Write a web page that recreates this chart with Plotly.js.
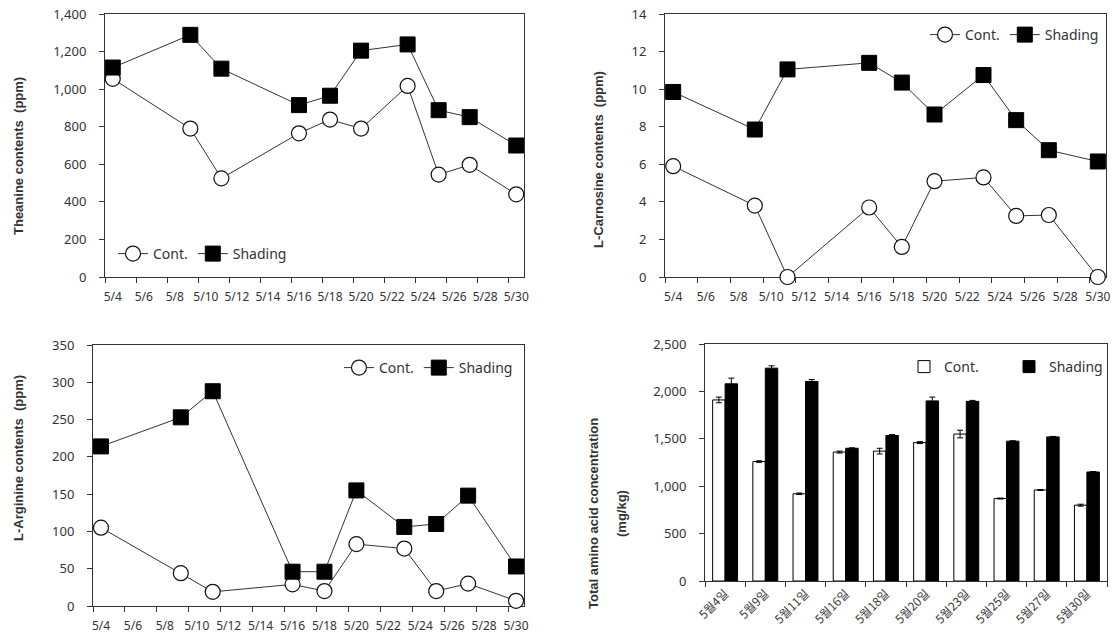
<!DOCTYPE html>
<html>
<head>
<meta charset="utf-8">
<script src="https://cdn.plot.ly/plotly-3.0.1.min.js"></script>
<style>
  html, body { margin: 0; padding: 0; background: #fff; }
  #chart { width: 1116px; height: 635px; }
</style>
</head>
<body>
<div id="chart"></div>
<script>
// ---- data ----
const days = [4, 9, 11, 16, 18, 20, 23, 25, 27, 30];
const dayTickVals = [4, 6, 8, 10, 12, 14, 16, 18, 20, 22, 24, 26, 28, 30];
const dayTickText = ['5/4', '5/6', '5/8', '5/10', '5/12', '5/14', '5/16', '5/18', '5/20', '5/22', '5/24', '5/26', '5/28', '5/30'];
const dayTickMarks = [3.5, 5.5, 7.5, 9.5, 11.5, 13.5, 15.5, 17.5, 19.5, 21.5, 23.5, 25.5, 27.5, 29.5];

const theanineCont = [1055, 790, 525, 765, 838, 790, 1017, 545, 597, 440];
const theanineShading = [1115, 1289, 1109, 915, 965, 1205, 1238, 888, 851, 700];

const carnosineCont = [5.9, 3.8, 0, 3.7, 1.6, 5.1, 5.3, 3.25, 3.3, 0];
const carnosineShading = [9.85, 7.85, 11.05, 11.4, 10.35, 8.65, 10.75, 8.35, 6.75, 6.15];

const arginineCont = [105, 44, 19, 29, 20, 83, 77, 20, 30, 7];
const arginineShading = [214, 253, 288, 46, 46, 155, 106, 110, 148, 53];

const barCategories = ['5월4일', '5월9일', '5월11일', '5월16일', '5월18일', '5월20일', '5월23일', '5월25일', '5월27일', '5월30일'];
const totalCont = [1910, 1260, 920, 1360, 1370, 1460, 1550, 870, 960, 800];
const totalContErr = [30, 8, 8, 10, 30, 10, 40, 5, 5, 10];
const totalShading = [2080, 2245, 2105, 1400, 1535, 1900, 1895, 1475, 1520, 1150];
const totalShadingErr = [60, 25, 20, 5, 10, 40, 10, 5, 5, 5];

const seriesNames = ['Cont.', 'Shading'];

// ---- helpers ----
const W = 1116, H = 635;
const px = v => v / W;
const py = v => 1 - v / H;
const INK = '#333333';
const tickFont = { family: 'Noto Sans, Open Sans, sans-serif', size: 12, color: INK };
const titleFont = { family: 'Liberation Sans, Arial, sans-serif', size: 13, color: INK, weight: 'bold' };
const legendFont = { family: 'Noto Sans, Open Sans, sans-serif', size: 14, color: INK };

function lineTraces(y1, y2, xa, ya, legendId) {
  return [
    {
      x: days, y: y1, name: seriesNames[0], type: 'scatter', mode: 'lines+markers',
      xaxis: xa, yaxis: ya, legend: legendId, cliponaxis: false,
      line: { color: INK, width: 1 },
      marker: { symbol: 'circle', size: 15, color: '#ffffff', line: { color: '#111', width: 1.2 } }
    },
    {
      x: days, y: y2, name: seriesNames[1], type: 'scatter', mode: 'lines+markers',
      xaxis: xa, yaxis: ya, legend: legendId, cliponaxis: false,
      line: { color: INK, width: 1 },
      marker: { symbol: 'square', size: 15, color: '#000000', line: { color: '#000', width: 1 } }
    }
  ];
}

// empty helper traces so that the tick-mark overlay axes get drawn
function tickAxisTrace(xa, ya) {
  return { x: [], y: [], type: 'scatter', mode: 'markers', xaxis: xa, yaxis: ya, showlegend: false, hoverinfo: 'skip' };
}

function dayAxis(l, r, anchor) {
  return {
    domain: [px(l), px(r)], anchor: anchor, range: [3.5, 30.5],
    tickmode: 'array', tickvals: dayTickVals, ticktext: dayTickText,
    ticks: '', ticklabelstandoff: 9,
    showline: true, mirror: true, linecolor: INK, linewidth: 1, layer: 'below traces',
    showgrid: false, zeroline: false, tickfont: tickFont, fixedrange: true
  };
}

function tickOverlayAxis(over, anchor) {
  return {
    overlaying: over, anchor: anchor, range: [3.5, 30.5],
    tickmode: 'array', tickvals: dayTickMarks, showticklabels: false,
    ticks: 'outside', ticklen: 5, tickcolor: INK, tickwidth: 1,
    showline: false, showgrid: false, zeroline: false, fixedrange: true
  };
}

function valAxis(t, b, anchor, range, dtick) {
  return {
    domain: [py(b), py(t)], anchor: anchor, range: range, dtick: dtick, tick0: 0,
    tickformat: ',', ticks: 'outside', ticklen: 5, tickcolor: INK, tickwidth: 1,
    ticklabelstandoff: 10, layer: 'below traces',
    showline: true, mirror: true, linecolor: INK, linewidth: 1,
    showgrid: false, zeroline: false, tickfont: Object.assign({}, tickFont, { size: 13 }), fixedrange: true
  };
}

const data = [
  ...lineTraces(theanineCont, theanineShading, 'x', 'y', 'legend'),
  ...lineTraces(carnosineCont, carnosineShading, 'x2', 'y2', 'legend2'),
  ...lineTraces(arginineCont, arginineShading, 'x3', 'y3', 'legend3'),
  tickAxisTrace('x5', 'y'),
  tickAxisTrace('x6', 'y2'),
  tickAxisTrace('x7', 'y3'),
  {
    x: barCategories, y: totalCont, name: seriesNames[0], type: 'bar',
    xaxis: 'x4', yaxis: 'y4', legend: 'legend4',
    marker: { color: '#ffffff', line: { color: '#000', width: 1 } },
    error_y: { type: 'data', array: totalContErr, visible: true, color: '#000', thickness: 1, width: 3 }
  },
  {
    x: barCategories, y: totalShading, name: seriesNames[1], type: 'bar',
    xaxis: 'x4', yaxis: 'y4', legend: 'legend4',
    marker: { color: '#000000', line: { color: '#000', width: 1 } },
    error_y: { type: 'data', array: totalShadingErr, visible: true, color: '#000', thickness: 1, width: 3 }
  }
];

const legendBase = {
  orientation: 'h', bgcolor: 'rgba(0,0,0,0)', font: legendFont,
  itemwidth: 30, tracegroupgap: 0, yanchor: 'middle', itemclick: false, itemdoubleclick: false
};

const yTitle = (text, x, y) => ({
  text: text, x: px(x), y: py(y), xref: 'paper', yref: 'paper',
  xanchor: 'center', yanchor: 'middle', textangle: -90, showarrow: false, font: titleFont
});

const layout = {
  width: W, height: H, autosize: false,
  margin: { l: 0, r: 0, t: 0, b: 0, pad: 0 },
  paper_bgcolor: '#ffffff', plot_bgcolor: '#ffffff',
  showlegend: true,
  barmode: 'group', bargap: 0.38, bargroupgap: 0,
  xaxis: dayAxis(105, 524, 'y'),
  yaxis: valAxis(14, 277, 'x', [0, 1400], 200),
  xaxis2: dayAxis(665, 1106, 'y2'),
  yaxis2: valAxis(14, 277, 'x2', [0, 14], 2),
  xaxis3: dayAxis(93, 524, 'y3'),
  yaxis3: valAxis(345, 606, 'x3', [0, 350], 50),
  xaxis5: tickOverlayAxis('x', 'y'),
  xaxis6: tickOverlayAxis('x2', 'y2'),
  xaxis7: tickOverlayAxis('x3', 'y3'),
  xaxis4: {
    domain: [px(705), px(1107)], anchor: 'y4', type: 'category',
    ticks: 'outside', tickson: 'boundaries', ticklen: 5, tickcolor: INK,
    tickangle: -45, showline: true, mirror: true, linecolor: INK, linewidth: 1,
    showgrid: false, zeroline: false,
    tickfont: { family: 'Noto Sans CJK KR, Noto Sans, sans-serif', size: 12, color: '#3a3a3a' }, fixedrange: true
  },
  yaxis4: valAxis(344, 581, 'x4', [0, 2500], 500),
  legend: Object.assign({}, legendBase, { x: px(113), y: py(254), xanchor: 'left' }),
  legend2: Object.assign({}, legendBase, { x: px(1104), y: py(35), xanchor: 'right' }),
  legend3: Object.assign({}, legendBase, { x: px(518), y: py(368), xanchor: 'right' }),
  legend4: Object.assign({}, legendBase, { x: px(904), y: py(367), xanchor: 'left', entrywidth: 60 }),
  annotations: [
    yTitle('Theanine contents  (ppm)', 18, 156),
    yTitle('L-Carnosine contents  (ppm)', 598, 160),
    yTitle('L-Arginine contents  (ppm)', 18, 458),
    yTitle('Total amino acid concentration', 593, 514),
    yTitle('(mg/kg)', 621, 514)
  ]
};

Plotly.newPlot('chart', data, layout, { displayModeBar: false, staticPlot: true });
</script>
</body>
</html>
